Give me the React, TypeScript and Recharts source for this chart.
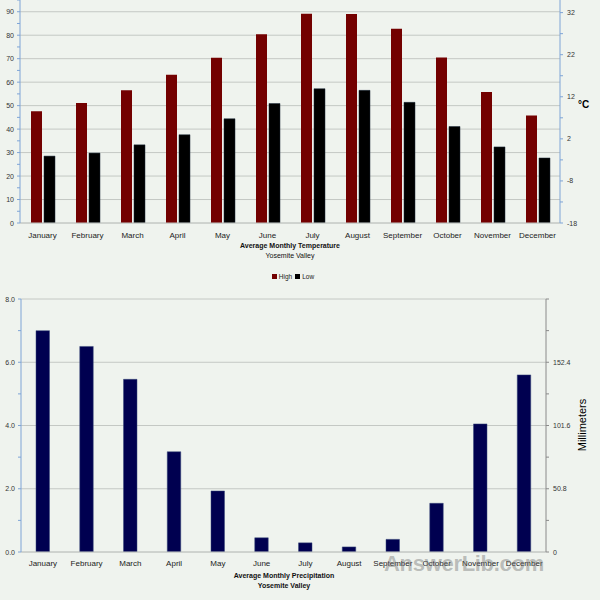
import { BarChart, Bar, XAxis, YAxis, CartesianGrid } from "recharts";

const months = [
  "January", "February", "March", "April", "May", "June",
  "July", "August", "September", "October", "November", "December",
];
const highF = [47.6, 51.1, 56.5, 63.2, 70.4, 80.4, 89.1, 89.0, 82.8, 70.5, 55.8, 45.8];
const lowF = [28.5, 29.8, 33.3, 37.6, 44.4, 50.9, 57.2, 56.5, 51.4, 41.1, 32.4, 27.7];
const precipIn = [7.0, 6.5, 5.46, 3.17, 1.93, 0.45, 0.29, 0.16, 0.4, 1.54, 4.05, 5.6];

const fTicks = [0, 5, 10, 15, 20, 25, 30, 35, 40, 45, 50, 55, 60, 65, 70, 75, 80, 85, 90, 95];
const fLabels = [0, 10, 20, 30, 40, 50, 60, 70, 80, 90];
const cTicks = [-18, -13, -8, -3, 2, 7, 12, 17, 22, 27, 32];
const cLabels = [-18, -8, 2, 12, 22, 32];
const inTicks = [0, 1, 2, 3, 4, 5, 6, 7, 8];
const inLabels = [0, 2, 4, 6, 8];
const mmTicks = [0, 25.4, 50.8, 76.2, 101.6, 127, 152.4, 177.8, 203.2];
const mmLabels = [0, 50.8, 101.6, 152.4];

const tempData = months.map((m, i) => ({ month: m, high: highF[i], low: lowF[i] }));
const precipData = months.map((m, i) => ({ month: m, inches: precipIn[i] }));

const font = "'Liberation Sans', Arial, sans-serif";
const bg = "#eff3ee";
const grid = "#c4c8c4";
const blueAxis = "#7ea4d6";

function makeTick(labels: number[], anchor: "start" | "end", fmt: (v: number) => string) {
  return (props: any) => {
    const { x, y, payload } = props;
    if (!labels.some((l) => Math.abs(l - payload.value) < 0.01)) return <g />;
    return (
      <text x={x} y={y} dy={2.5} textAnchor={anchor} fontSize={7} fill="#333" fontFamily={font}>
        {fmt(payload.value)}
      </text>
    );
  };
}

const xTick = { fontSize: 8, fill: "#222", fontFamily: font };

export default function App() {
  return (
    <div style={{ position: "absolute", left: 0, top: 0, width: 600, height: 600, background: bg, fontFamily: font }}>
      <div style={{ position: "absolute", left: 0, top: 0 }}>
        <BarChart width={600} height={240} data={tempData} margin={{ top: 0, right: 0, bottom: 0, left: 0 }} barGap={2}>
          <CartesianGrid yAxisId="f" vertical={false} stroke={grid} horizontalValues={fLabels} />
          <XAxis
            dataKey="month"
            height={17}
            tickLine={false}
            tickSize={0}
            tickMargin={9}
            axisLine={{ stroke: grid }}
            tick={xTick}
            interval={0}
          />
          <YAxis
            yAxisId="f"
            width={20}
            domain={[0, 95]}
            ticks={fTicks}
            interval={0}
            tickSize={3}
            tickMargin={3}
            stroke={blueAxis}
            allowDataOverflow
            tick={makeTick(fLabels, "end", (v) => String(v))}
          />
          <YAxis
            yAxisId="c"
            orientation="right"
            width={40}
            domain={[-18, 35]}
            ticks={cTicks}
            interval={0}
            tickSize={3}
            tickMargin={4}
            stroke={blueAxis}
            allowDataOverflow
            tick={makeTick(cLabels, "start", (v) => String(v))}
          />
          <Bar yAxisId="f" dataKey="high" name="High" fill="#730000" barSize={11} isAnimationActive={false} />
          <Bar yAxisId="f" dataKey="low" name="Low" fill="#000000" stroke="#1c2a3a" strokeWidth={0.5} barSize={11} isAnimationActive={false} />
        </BarChart>
      </div>
      <div style={{ position: "absolute", left: 578, top: 99, fontSize: 10, fontWeight: "bold", color: "#000" }}>°C</div>
      <div style={{ position: "absolute", left: 190, width: 200, top: 241, textAlign: "center", fontSize: 7, fontWeight: "bold", color: "#111", lineHeight: "10px" }}>
        Average Monthly Temperature
        <div style={{ fontWeight: "normal" }}>Yosemite Valley</div>
      </div>
      <div style={{ position: "absolute", left: 193, width: 200, top: 272, textAlign: "center", fontSize: 6.5, color: "#222", lineHeight: "10px" }}>
        <span style={{ display: "inline-block", width: 5, height: 5, background: "#730000", marginRight: 2 }} />
        High
        <span style={{ display: "inline-block", width: 5, height: 5, background: "#000", marginLeft: 3, marginRight: 2 }} />
        Low
      </div>

      <div style={{ position: "absolute", left: 0, top: 290 }}>
        <BarChart width={600} height={290} data={precipData} margin={{ top: 9, right: 0, bottom: 0, left: 0 }}>
          <CartesianGrid yAxisId="in" vertical={false} stroke={grid} horizontalValues={inLabels} />
          <XAxis
            dataKey="month"
            height={28}
            tickLine={false}
            tickSize={0}
            tickMargin={8}
            axisLine={{ stroke: grid }}
            tick={xTick}
            interval={0}
          />
          <YAxis
            yAxisId="in"
            width={21}
            domain={[0, 8]}
            ticks={inTicks}
            interval={0}
            tickSize={3}
            tickMargin={3}
            stroke={blueAxis}
            allowDataOverflow
            tick={makeTick(inLabels, "end", (v) => v.toFixed(1))}
          />
          <YAxis
            yAxisId="mm"
            orientation="right"
            width={54}
            domain={[0, 203.2]}
            ticks={mmTicks}
            interval={0}
            tickSize={3}
            tickMargin={4}
            stroke="#8a8a8a"
            allowDataOverflow
            tick={makeTick(mmLabels, "start", (v) => (v === 0 ? "0" : v.toFixed(1)))}
          />
          <Bar yAxisId="in" dataKey="inches" name="Precipitation" fill="#000050" stroke="#3a4a7a" strokeWidth={0.5} barSize={13.5} isAnimationActive={false} />
        </BarChart>
      </div>
      <div
        style={{
          position: "absolute",
          left: 578,
          top: 425,
          fontSize: 11,
          color: "#000",
          transform: "translate(-50%, -50%) rotate(-90deg)",
          whiteSpace: "nowrap",
          marginLeft: 4,
        }}
      >
        Millimeters
      </div>
      <div style={{ position: "absolute", left: 184, width: 200, top: 571, textAlign: "center", fontSize: 7, fontWeight: "bold", color: "#111", lineHeight: "10px" }}>
        Average Monthly Precipitation
        <div>Yosemite Valley</div>
      </div>
      <div style={{ position: "absolute", left: 384, top: 551, fontSize: 22, fontWeight: "bold", color: "rgba(120,120,120,0.45)", letterSpacing: -0.3 }}>
        AnswerLib.com
      </div>
    </div>
  );
}
